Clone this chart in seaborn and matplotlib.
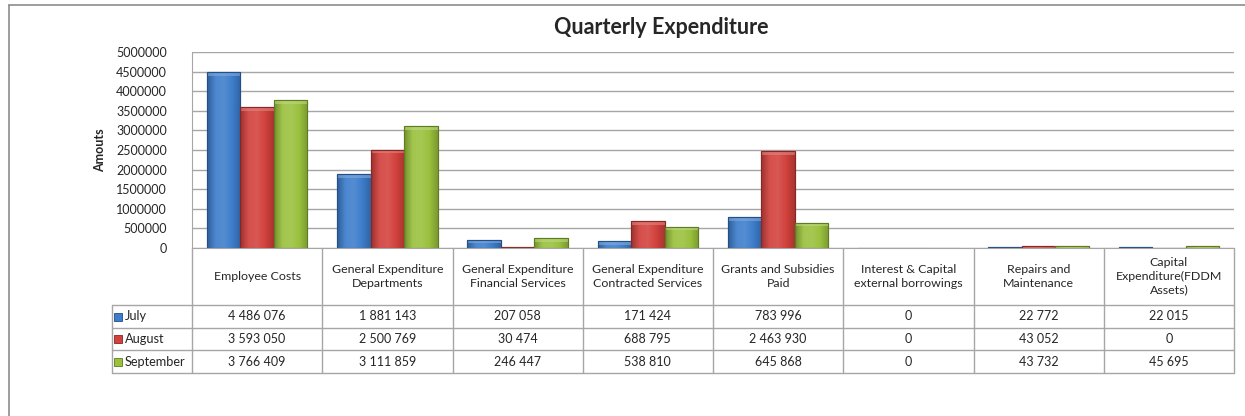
import numpy as np
import pandas as pd
import matplotlib
matplotlib.use("Agg")
import matplotlib.pyplot as plt
import matplotlib.transforms as mtransforms
from matplotlib.lines import Line2D
from matplotlib.patches import Rectangle
from matplotlib.colors import LinearSegmentedColormap, to_rgb
import seaborn as sns

categories = [
    "Employee Costs",
    "General Expenditure\nDepartments",
    "General Expenditure\nFinancial Services",
    "General Expenditure\nContracted Services",
    "Grants and Subsidies\nPaid",
    "Interest & Capital\nexternal borrowings",
    "Repairs and\nMaintenance",
    "Capital\nExpenditure(FDDM\nAssets)",
]
months = ["July", "August", "September"]
july = [4486076, 1881143, 207058, 171424, 783996, 0, 22772, 22015]
august = [3593050, 2500769, 30474, 688795, 2463930, 0, 43052, 0]
september = [3766409, 3111859, 246447, 538810, 645868, 0, 43732, 45695]
colors = ["#3D7DCB", "#D2413C", "#9AC13D"]
edge_colors = ["#234E86", "#8A2623", "#5F7C22"]

df = pd.DataFrame({
    "category": categories * 3,
    "month": [m for m in months for _ in categories],
    "amount": july + august + september,
})

sns.set_style("white")
plt.rcParams["font.family"] = ["Lato", "DejaVu Sans"]

W, H = 1245, 416
fig = plt.figure(figsize=(W / 100, H / 100), dpi=100)


def fx(px):
    return px / W


def fy(py):
    return (H - py) / H


def shade(c, f):
    r, g, b = to_rgb(c)
    if f >= 0:
        return (r + (1 - r) * f, g + (1 - g) * f, b + (1 - b) * f)
    return (r * (1 + f), g * (1 + f), b * (1 + f))


ax = fig.add_axes([fx(192), fy(248), fx(1234) - fx(192), fy(52) - fy(248)])
sns.barplot(data=df, x="category", y="amount", hue="month", order=categories,
            hue_order=months, palette=colors, width=0.77, gap=0,
            ax=ax, legend=False, saturation=1)

ax.set_xlim(-0.5, len(categories) - 0.5)
ax.set_ylim(0, 5000000)

# gradient fill + darker outline to mimic the bevelled Excel bars
grad = np.linspace(0, 1, 64).reshape(1, -1)
for i, cont in enumerate(ax.containers):
    c = colors[i]
    cmap = LinearSegmentedColormap.from_list(
        f"bev{i}", [shade(c, -0.25), shade(c, 0.08), shade(c, 0.12), c, shade(c, -0.2)])
    for bar in cont:
        bar.set_edgecolor(edge_colors[i])
        bar.set_linewidth(0.8)
        h = bar.get_height()
        if h <= 0:
            continue
        x0 = bar.get_x()
        x1 = x0 + bar.get_width()
        im = ax.imshow(grad, extent=[x0, x1, 0, h], aspect="auto", cmap=cmap,
                       zorder=bar.get_zorder() + 0.1, interpolation="bicubic")
        im.set_clip_path(bar)
        top = min(h, 90000)
        ax.add_patch(Rectangle((x0, h - top), x1 - x0, top, facecolor=shade(c, 0.35),
                               edgecolor="none", alpha=0.6, zorder=bar.get_zorder() + 0.2))
        ax.add_patch(Rectangle((x0, 0), x1 - x0, h, facecolor="none",
                               edgecolor=edge_colors[i], linewidth=0.8,
                               zorder=bar.get_zorder() + 0.3))

ax.set_xlim(-0.5, len(categories) - 0.5)
ax.set_ylim(0, 5000000)
ax.set_yticks(np.arange(0, 5000001, 500000))
ax.set_yticklabels([f"{v:d}" for v in range(0, 5000001, 500000)], fontsize=9)
ax.tick_params(axis="y", length=0, pad=18)
ax.set_xticks([])
ax.set_xlabel("")
ax.set_ylabel("")
ax.yaxis.grid(True, color="#A6A6A6", linewidth=1)
ax.set_axisbelow(True)
for s in ["top", "right"]:
    ax.spines[s].set_visible(False)
ax.spines["left"].set_color("#A6A6A6")
ax.spines["bottom"].set_color("#A6A6A6")

fig.text(fx(661), fy(27), "Quarterly Expenditure", ha="center", va="center",
         fontsize=15.5, fontweight="bold")
fig.text(fx(100), fy(150), "Amouts", ha="center", va="center", rotation=90,
         fontsize=9, fontweight="bold")

# data table below the axis
blend = mtransforms.blended_transform_factory(ax.transData, fig.transFigure)
line_kw = dict(color="#A6A6A6", linewidth=1, clip_on=False)
y_head_top, y_head_bot = 248, 305
row_edges = [305, 328, 350, 373]
n = len(categories)

for k in range(n + 1):
    xb = k - 0.5
    ax.add_line(Line2D([xb, xb], [fy(y_head_top), fy(row_edges[-1])],
                       transform=blend, **line_kw))
for yy in row_edges:
    fig.add_artist(Line2D([fx(112), fx(1234)], [fy(yy), fy(yy)], **line_kw))
fig.add_artist(Line2D([fx(112), fx(112)], [fy(row_edges[0]), fy(row_edges[-1])], **line_kw))

for k, cat in enumerate(categories):
    ax.text(k, fy((y_head_top + y_head_bot) / 2), cat, transform=blend,
            ha="center", va="center", fontsize=8.9, linespacing=1.3)

series = [july, august, september]
for r, (m, vals) in enumerate(zip(months, series)):
    yc = fy((row_edges[r] + row_edges[r + 1]) / 2)
    fig.add_artist(Rectangle((fx(114), yc - 4 / H), 8 / W, 8 / H,
                             facecolor=colors[r], edgecolor=edge_colors[r],
                             linewidth=0.6, transform=fig.transFigure))
    fig.text(fx(125), yc, m, ha="left", va="center", fontsize=9.2)
    for k, v in enumerate(vals):
        ax.text(k, yc, f"{v:,}".replace(",", " "), transform=blend,
                ha="center", va="center", fontsize=9)

# outer chart frame (left and top edges visible)
frame_kw = dict(color="#8C8C8C", linewidth=1.2)
fig.add_artist(Line2D([fx(9), fx(9)], [fy(5), 0], **frame_kw))
fig.add_artist(Line2D([fx(9), 1], [fy(5), fy(5)], **frame_kw))

fig.savefig("out.png", dpi=100)
